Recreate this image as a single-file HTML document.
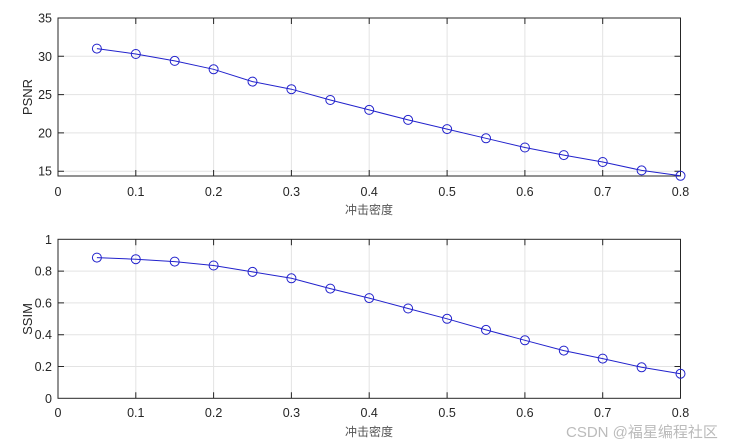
<!DOCTYPE html>
<html><head><meta charset="utf-8"><style>body{margin:0;background:#fff}svg{display:block}text{font-family:"Liberation Sans","Noto Sans CJK SC",sans-serif;fill:#262626;font-size:12.5px}</style></head><body>
<svg width="739" height="448" xmlns="http://www.w3.org/2000/svg">
<rect width="739" height="448" fill="#fff"/>
<g stroke="#e3e3e3" stroke-width="1">
<path d="M135.8 18V176M213.6 18V176M291.4 18V176M369.2 18V176M447.1 18V176M524.9 18V176M602.7 18V176M58 56.3H680.5M58 94.6H680.5M58 132.9H680.5M58 171.2H680.5"/>
<path d="M135.8 239.3V398.3M213.6 239.3V398.3M291.4 239.3V398.3M369.2 239.3V398.3M447.1 239.3V398.3M524.9 239.3V398.3M602.7 239.3V398.3M58 271.1H680.5M58 302.9H680.5M58 334.7H680.5M58 366.5H680.5"/>
</g>
<g stroke="#262626" stroke-width="1" fill="none">
<rect x="58" y="18" width="622.5" height="158"/>
<rect x="58" y="239.3" width="622.5" height="159"/>
<path d="M135.8 176v-6M213.6 176v-6M291.4 176v-6M369.2 176v-6M447.1 176v-6M524.9 176v-6M602.7 176v-6M135.8 18v6M213.6 18v6M291.4 18v6M369.2 18v6M447.1 18v6M524.9 18v6M602.7 18v6M58 56.3h6M58 94.6h6M58 132.9h6M58 171.2h6M680.5 56.3h-6M680.5 94.6h-6M680.5 132.9h-6M680.5 171.2h-6"/>
<path d="M135.8 398.3v-6M213.6 398.3v-6M291.4 398.3v-6M369.2 398.3v-6M447.1 398.3v-6M524.9 398.3v-6M602.7 398.3v-6M135.8 239.3v6M213.6 239.3v6M291.4 239.3v6M369.2 239.3v6M447.1 239.3v6M524.9 239.3v6M602.7 239.3v6M58 271.1h6M58 302.9h6M58 334.7h6M58 366.5h6M680.5 271.1h-6M680.5 302.9h-6M680.5 334.7h-6M680.5 366.5h-6"/>
</g>
<g fill="none" stroke="#2222cc" stroke-width="1">
<polyline points="96.9,48.6 135.8,54.0 174.7,60.9 213.6,69.3 252.5,81.6 291.4,89.2 330.3,100.0 369.2,109.9 408.1,119.9 447.1,129.1 486.0,138.3 524.9,147.5 563.8,155.1 602.7,162.0 641.6,170.4 680.5,175.8"/>
<g>
<circle cx="96.9" cy="48.6" r="4.5"/><circle cx="135.8" cy="54.0" r="4.5"/><circle cx="174.7" cy="60.9" r="4.5"/><circle cx="213.6" cy="69.3" r="4.5"/><circle cx="252.5" cy="81.6" r="4.5"/><circle cx="291.4" cy="89.2" r="4.5"/><circle cx="330.3" cy="100.0" r="4.5"/><circle cx="369.2" cy="109.9" r="4.5"/><circle cx="408.1" cy="119.9" r="4.5"/><circle cx="447.1" cy="129.1" r="4.5"/><circle cx="486.0" cy="138.3" r="4.5"/><circle cx="524.9" cy="147.5" r="4.5"/><circle cx="563.8" cy="155.1" r="4.5"/><circle cx="602.7" cy="162.0" r="4.5"/><circle cx="641.6" cy="170.4" r="4.5"/><circle cx="680.5" cy="175.8" r="4.5"/>
</g>
<polyline points="96.9,257.6 135.8,259.2 174.7,261.6 213.6,265.5 252.5,271.9 291.4,278.3 330.3,288.6 369.2,298.1 408.1,308.5 447.1,318.8 486.0,329.9 524.9,340.3 563.8,350.6 602.7,358.6 641.6,367.3 680.5,373.7"/>
<g>
<circle cx="96.9" cy="257.6" r="4.5"/><circle cx="135.8" cy="259.2" r="4.5"/><circle cx="174.7" cy="261.6" r="4.5"/><circle cx="213.6" cy="265.5" r="4.5"/><circle cx="252.5" cy="271.9" r="4.5"/><circle cx="291.4" cy="278.3" r="4.5"/><circle cx="330.3" cy="288.6" r="4.5"/><circle cx="369.2" cy="298.1" r="4.5"/><circle cx="408.1" cy="308.5" r="4.5"/><circle cx="447.1" cy="318.8" r="4.5"/><circle cx="486.0" cy="329.9" r="4.5"/><circle cx="524.9" cy="340.3" r="4.5"/><circle cx="563.8" cy="350.6" r="4.5"/><circle cx="602.7" cy="358.6" r="4.5"/><circle cx="641.6" cy="367.3" r="4.5"/><circle cx="680.5" cy="373.7" r="4.5"/>
</g>
</g>
<g text-anchor="end">
<text x="52" y="22.5">35</text><text x="52" y="60.8">30</text><text x="52" y="99.1">25</text><text x="52" y="137.4">20</text><text x="52" y="175.7">15</text>
<text x="52" y="243.8">1</text><text x="52" y="275.6">0.8</text><text x="52" y="307.4">0.6</text><text x="52" y="339.2">0.4</text><text x="52" y="371">0.2</text><text x="52" y="402.8">0</text>
</g>
<g text-anchor="middle">
<text x="58" y="196">0</text><text x="135.8" y="196">0.1</text><text x="213.6" y="196">0.2</text><text x="291.4" y="196">0.3</text><text x="369.2" y="196">0.4</text><text x="447.1" y="196">0.5</text><text x="524.9" y="196">0.6</text><text x="602.7" y="196">0.7</text><text x="680.5" y="196">0.8</text>
<text x="58" y="417">0</text><text x="135.8" y="417">0.1</text><text x="213.6" y="417">0.2</text><text x="291.4" y="417">0.3</text><text x="369.2" y="417">0.4</text><text x="447.1" y="417">0.5</text><text x="524.9" y="417">0.6</text><text x="602.7" y="417">0.7</text><text x="680.5" y="417">0.8</text>
<text x="369" y="214" style="fill:#555;font-size:12px">冲击密度</text>
<text x="369" y="436" style="fill:#555;font-size:12px">冲击密度</text>
<text transform="translate(32,97) rotate(-90)" style="font-size:13px">PSNR</text>
<text transform="translate(32,319) rotate(-90)" style="font-size:13px">SSIM</text>
</g>
<text x="566" y="437" style="fill:#bbb;font-size:15px">CSDN @福星编程社区</text>
</svg>
</body></html>
